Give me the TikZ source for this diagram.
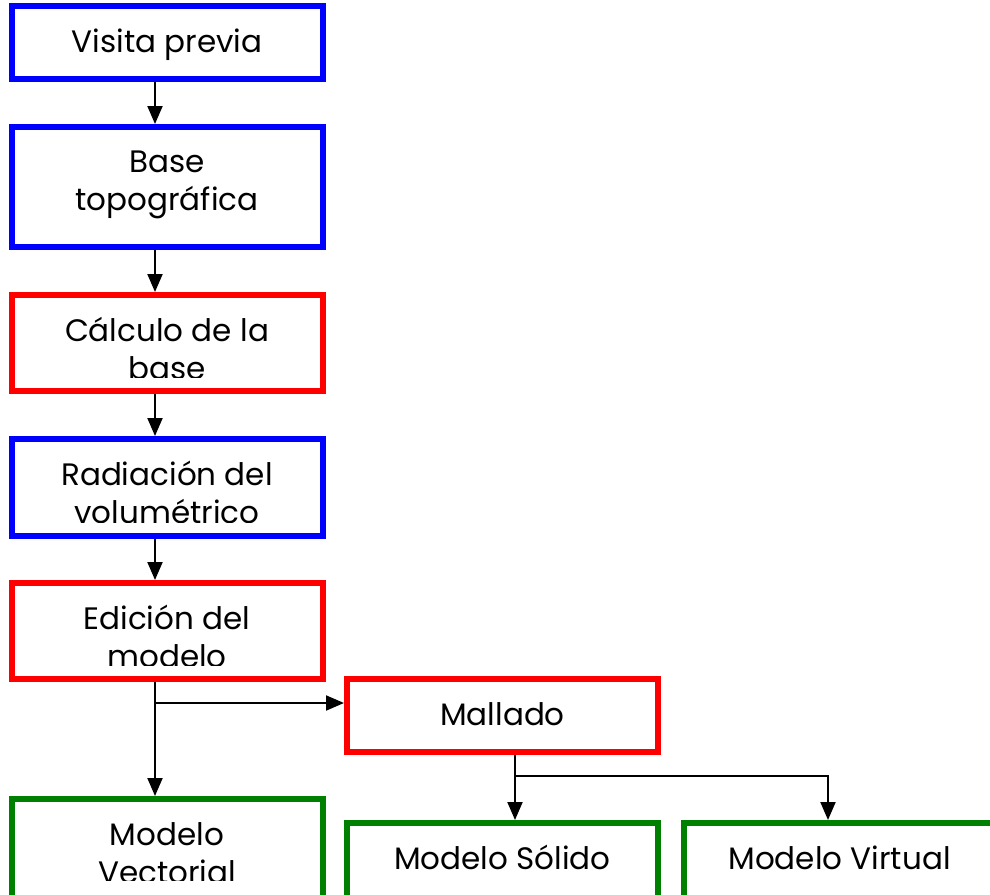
\documentclass[tikz,border=0pt]{standalone}
\usepackage{fontspec}
\setmainfont{Poppins}
\usetikzlibrary{arrows.meta}

\definecolor{azul}{RGB}{0,0,255}
\definecolor{rojo}{RGB}{255,0,0}
\definecolor{verde}{RGB}{0,128,0}

\tikzset{
  caja/.style={draw, line width=6pt, minimum width=311pt, inner sep=0pt},
  rotulo/.style={font=\fontsize{31}{38}\selectfont, align=center, anchor=base, inner sep=0pt},
  flecha/.style={line width=2pt, -{Triangle[length=18pt,width=15pt]}},
}

\begin{document}
\begin{tikzpicture}[x=1pt,y=-1pt]
\useasboundingbox (0,0) rectangle (990,894);

% cajas
\node[caja, azul, minimum height=73pt] (visita) at (167,42.5) {};
\node[caja, azul, minimum height=120pt] (base) at (167,187) {};
\node[caja, rojo, minimum height=96pt] (calculo) at (167,343) {};
\node[caja, azul, minimum height=97pt] (radiacion) at (167,487.5) {};
\node[caja, rojo, minimum height=96pt] (edicion) at (167,631) {};
\node[caja, rojo, minimum height=73pt] (mallado) at (502.5,715.5) {};
\node[caja, verde, minimum height=110pt] (vectorial) at (167,854) {};
\node[caja, verde, minimum height=90pt] (solido) at (502.5,868) {};
\node[caja, verde, minimum height=90pt, minimum width=320pt] (virtual) at (844,868) {};

% textos (anchor base = ultima linea)
\node[rotulo] (t-visita) at (167,52) {Visita previa};
\node[rotulo] (t-base) at (167,210) {Base\\topográfica};
\begin{scope}
\clip (calculo.north west) rectangle ([yshift=17pt]calculo.south east);
\node[rotulo] (t-calculo) at (167,379) {Cálculo de la\\base};
\end{scope}
\begin{scope}
\clip (radiacion.north west) rectangle ([yshift=17pt]radiacion.south east);
\node[rotulo] (t-radiacion) at (167,523) {Radiación del\\volumétrico};
\end{scope}
\begin{scope}
\clip (edicion.north west) rectangle ([yshift=17pt]edicion.south east);
\node[rotulo] (t-edicion) at (167,667) {Edición del\\modelo};
\end{scope}
\node[rotulo] (t-mallado) at (502.5,725) {Mallado};
\begin{scope}
\clip (vectorial.north west) rectangle (vectorial.east |- 0,880);
\node[rotulo] (t-vectorial) at (167,883) {Modelo\\Vectorial};
\end{scope}
\node[rotulo] (t-solido) at (502.5,869) {Modelo Sólido};
\node[rotulo] (t-virtual) at (839.5,869) {Modelo Virtual};

% flechas
\draw[flecha] ([xshift=-12pt]visita.south) -- ([xshift=-12pt]base.north);
\draw[flecha] ([xshift=-12pt]base.south) -- ([xshift=-12pt]calculo.north);
\draw[flecha] ([xshift=-12pt]calculo.south) -- ([xshift=-12pt]radiacion.north);
\draw[flecha] ([xshift=-12pt]radiacion.south) -- ([xshift=-12pt]edicion.north);
\draw[flecha] ([xshift=-12pt]edicion.south) -- ([xshift=-12pt]vectorial.north);
\coordinate (rama1) at ([xshift=-12pt,yshift=-21pt]edicion.south);
\draw[flecha] (rama1) -- (rama1 -| mallado.west);
\draw[flecha] ([xshift=12.5pt]mallado.south) -- ([xshift=12.5pt]solido.north);
\coordinate (rama2) at ([xshift=12.5pt,yshift=-21pt]mallado.south);
\draw[flecha] (rama2) -| ([xshift=-16pt]virtual.north);

\end{tikzpicture}
\end{document}
